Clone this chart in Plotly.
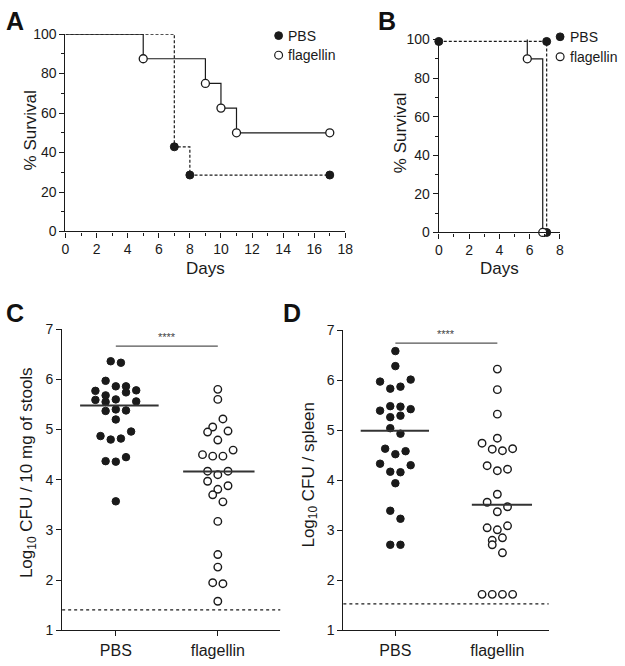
import plotly.graph_objects as go

W, H = 625, 666
FONT = "Arial, 'Liberation Sans', sans-serif"
INK = "#1a1a1a"


def px(x):
    return x / W


def py(y):
    return 1 - y / H


# ---------------- data ----------------
groups = ["PBS", "flagellin"]

# Panel A: survival (%)
A_flag_days = [0, 5, 9, 10, 11, 17]
A_flag_surv = [100, 87.5, 75, 62.5, 50, 50]
A_pbs_days = [0, 7, 8, 17]
A_pbs_surv = [100, 42.9, 28.6, 28.6]

# Panel B: survival (%)
B_pbs_days = [0, 7.13, 7.13]
B_pbs_surv = [99, 99, 0]
B_flag_days = [0, 5.85, 6.87]
B_flag_surv = [101.5, 90, 0]

# Panel C: Log10 CFU / 10 mg of stools
C_pbs = [6.36, 6.33, 5.97, 5.86, 5.86, 5.77, 5.78, 5.74, 5.68, 5.59, 5.60, 5.56, 5.55,
         5.37, 5.40, 5.38, 5.20, 4.87, 4.96, 4.80, 4.82, 4.37, 4.36, 4.45, 3.57]
C_pbs_offset = [-0.05, 0.05, -0.1, 0, 0.1, -0.2, 0.2, 0.1, -0.1, -0.2, 0, 0.2, -0.1,
                -0.1, 0, 0.1, 0, -0.15, 0.15, -0.05, 0.05, -0.1, 0, 0.1, 0]
C_flag = [5.80, 5.60, 5.21, 5.05, 4.95, 4.97, 4.79, 4.50, 4.47, 4.47, 4.59, 4.17, 4.10,
          4.17, 3.97, 3.88, 3.81, 3.70, 3.56, 3.17, 2.51, 2.26, 1.95, 1.93, 1.58]
C_flag_offset = [0, 0, 0.05, -0.05, -0.1, 0.1, 0, -0.15, -0.05, 0.05, 0.15, -0.1, 0,
                 0.1, -0.1, 0.1, 0, -0.05, 0.05, 0, 0, 0, -0.05, 0.05, 0]
C_center = [5.48, 4.165]
C_limit = 1.41
C_sig_y = 6.66

# Panel D: Log10 CFU / spleen
D_pbs = [6.58, 6.28, 5.97, 5.83, 5.87, 6.01, 5.39, 5.48, 5.47, 5.42, 5.26, 5.29, 5.04,
         4.93, 4.63, 4.52, 4.58, 4.33, 4.17, 4.16, 4.30, 3.94, 3.39, 3.23, 2.71, 2.71]
D_pbs_offset = [0, 0, -0.15, -0.05, 0.05, 0.15, -0.15, -0.05, 0.05, 0.15, -0.05, 0.05, -0.05,
                0.05, -0.1, 0, 0.1, -0.15, -0.05, 0.05, 0.15, 0, -0.05, 0.05, -0.05, 0.05]
D_flag = [6.22, 5.81, 5.32, 4.84, 4.74, 4.62, 4.59, 4.63, 4.29, 4.19, 4.22, 3.72, 3.56,
          3.47, 3.37, 3.05, 3.01, 3.09, 2.80, 2.85, 2.71, 2.55, 1.72, 1.72, 1.72, 1.72]
D_flag_offset = [0, 0, 0, 0, -0.15, -0.05, 0.05, 0.15, -0.1, 0, 0.1, 0, -0.1,
                 0.1, 0, -0.1, 0, 0.1, -0.05, 0.05, -0.05, 0.05, -0.15, -0.05, 0.05, 0.15]
D_center = [4.99, 3.51]
D_limit = 1.53
D_sig_y = 6.74

# ---------------- figure ----------------
fig = go.Figure()

filled = dict(color=INK, size=8, line=dict(color=INK, width=1))
opened = dict(color="white", size=8, line=dict(color=INK, width=1.3))


def survival(days, surv, xa, ya, dash, marker, skip_first):
    fig.add_trace(go.Scatter(x=days, y=surv, mode="lines", line_shape="hv",
                             line=dict(color=INK, width=1.2, dash=dash),
                             xaxis=xa, yaxis=ya, showlegend=False, hoverinfo="skip"))
    s = 1 if skip_first else 0
    fig.add_trace(go.Scatter(x=days[s:], y=surv[s:], mode="markers", marker=marker,
                             xaxis=xa, yaxis=ya, showlegend=False, cliponaxis=False))


survival(A_pbs_days, A_pbs_surv, "x", "y", "3px,2px", filled, True)
survival(A_flag_days, A_flag_surv, "x", "y", "solid", opened, True)
survival(B_pbs_days, B_pbs_surv, "x2", "y2", "3px,2px", filled, False)
survival(B_flag_days, B_flag_surv, "x2", "y2", "solid", opened, False)

dot_f = dict(color=INK, size=7.5, line=dict(color=INK, width=1))
dot_o = dict(color="white", size=7.5, line=dict(color=INK, width=1.4))


def scatter_panel(pbs, pbs_off, flag, flag_off, xa, ya):
    fig.add_trace(go.Scatter(x=[1 + o for o in pbs_off], y=pbs, mode="markers", marker=dot_f,
                             xaxis=xa, yaxis=ya, showlegend=False, cliponaxis=False))
    fig.add_trace(go.Scatter(x=[2 + o for o in flag_off], y=flag, mode="markers", marker=dot_o,
                             xaxis=xa, yaxis=ya, showlegend=False, cliponaxis=False))


scatter_panel(C_pbs, C_pbs_offset, C_flag, C_flag_offset, "x3", "y3")
scatter_panel(D_pbs, D_pbs_offset, D_flag, D_flag_offset, "x4", "y4")

shapes = []
annotations = []

# median lines
C_extent = [(-0.35, 0.42), (-0.34, 0.36)]
D_extent = [(-0.34, 0.33), (-0.25, 0.34)]
for centers, ext, xr, yr in [(C_center, C_extent, "x3", "y3"), (D_center, D_extent, "x4", "y4")]:
    for i, c in enumerate(centers):
        shapes.append(dict(type="line", xref=xr, yref=yr, x0=1 + i + ext[i][0], x1=1 + i + ext[i][1],
                           y0=c, y1=c, line=dict(color="#333333", width=2)))

# detection limits
shapes.append(dict(type="line", xref="x3 domain", yref="y3", x0=0, x1=1, y0=C_limit, y1=C_limit,
                   line=dict(color=INK, width=1.3, dash="dot")))
shapes.append(dict(type="line", xref="x4 domain", yref="y4", x0=0, x1=1, y0=D_limit, y1=D_limit,
                   line=dict(color=INK, width=1.3, dash="dot")))

# significance bars
for sy, xr, yr in [(C_sig_y, "x3", "y3"), (D_sig_y, "x4", "y4")]:
    shapes.append(dict(type="line", xref=xr, yref=yr, x0=1, x1=2, y0=sy, y1=sy,
                       line=dict(color="#555555", width=1.3)))
    annotations.append(dict(xref=xr, yref=yr, x=1.5, y=sy, text="****", showarrow=False,
                            yanchor="bottom", yshift=1, font=dict(size=11, color="#444444", family=FONT)))

# legends (A and B)
for (mx, my_pbs, my_flag) in [(280, 28.3, 48.3), (567, 29.5, 50)]:
    r = 4
    shapes.append(dict(type="circle", xref="paper", yref="paper",
                       x0=px(mx - r), x1=px(mx + r), y0=py(my_pbs + r), y1=py(my_pbs - r),
                       fillcolor=INK, line=dict(color=INK, width=1)))
    shapes.append(dict(type="circle", xref="paper", yref="paper",
                       x0=px(mx - r), x1=px(mx + r), y0=py(my_flag + r), y1=py(my_flag - r),
                       fillcolor="white", line=dict(color=INK, width=1.2)))
    annotations.append(dict(xref="paper", yref="paper", x=px(mx + 8), y=py(my_pbs), text=groups[0],
                            xanchor="left", yanchor="middle", showarrow=False,
                            font=dict(size=14, color=INK, family=FONT)))
    annotations.append(dict(xref="paper", yref="paper", x=px(mx + 8), y=py(my_flag), text=groups[1],
                            xanchor="left", yanchor="middle", showarrow=False,
                            font=dict(size=14, color=INK, family=FONT)))


# axis titles
def title(x, y, text, angle=0, size=16):
    annotations.append(dict(xref="paper", yref="paper", x=px(x), y=py(y), text=text,
                            textangle=angle, showarrow=False, xanchor="center", yanchor="middle",
                            font=dict(size=size, color=INK, family=FONT)))


title(205.5, 267, "Days", size=17)
title(28, 125, "% Survival", -90, 17)
title(505, 267, "Days", size=17)
title(405, 128, "% Survival", -90, 17)
title(24, 476, "Log<sub>10</sub> CFU / 10 mg of stools", -90, 17)
title(311, 478, "Log<sub>10</sub> CFU / spleen", -90, 17)

# panel letters
for lx, ly, t in [(11, 13, "A"), (391, 13, "B"), (11, 312, "C"), (294, 312, "D")]:
    annotations.append(dict(xref="paper", yref="paper", x=px(lx), y=py(ly), text=f"<b>{t}</b>",
                            showarrow=False, xanchor="center", yanchor="middle",
                            font=dict(size=25, color="#111111", family=FONT)))

axis_common = dict(showline=True, linecolor=INK, linewidth=1.2, showgrid=False, zeroline=False,
                   ticks="outside", ticklen=5, tickwidth=1.2, tickcolor=INK,
                   tickfont=dict(size=14, color=INK, family=FONT), fixedrange=True)
cat_font = dict(size=16, color=INK, family=FONT)

fig.update_layout(
    width=W, height=H, margin=dict(l=0, r=0, t=0, b=0),
    paper_bgcolor="white", plot_bgcolor="white",
    font=dict(family=FONT, color=INK),
    xaxis=dict(domain=[px(62.7), px(348)], range=[0, 18], dtick=2, anchor="y",
               minor=dict(ticks="outside", dtick=1, ticklen=3, tickcolor=INK), **axis_common),
    yaxis=dict(domain=[py(229), py(26.7)], range=[0, 100], dtick=20, anchor="x",
               minor=dict(ticks="outside", dtick=10, ticklen=3, tickcolor=INK), **axis_common),
    xaxis2=dict(domain=[px(443.3), px(566.7)], range=[0, 8], dtick=2, anchor="y2",
                minor=dict(ticks="outside", dtick=1, ticklen=3, tickcolor=INK), **axis_common),
    yaxis2=dict(domain=[py(230), py(32.3)], range=[0, 100], dtick=20, anchor="x2",
                minor=dict(ticks="outside", dtick=10, ticklen=3, tickcolor=INK), **axis_common),
    xaxis3=dict(domain=[px(59.3), px(281.7)], range=[0.474, 2.6125], anchor="y3",
                tickvals=[1, 2], ticktext=groups, **{**axis_common, "tickfont": cat_font}),
    yaxis3=dict(domain=[py(637.7), py(329)], range=[1, 7], dtick=1, anchor="x3", **axis_common),
    xaxis4=dict(domain=[px(346), px(555.3)], range=[0.49, 2.503], anchor="y4",
                tickvals=[1, 2], ticktext=groups, **{**axis_common, "tickfont": cat_font}),
    yaxis4=dict(domain=[py(637.7), py(330)], range=[1, 7], dtick=1, anchor="x4", **axis_common),
    shapes=shapes,
    annotations=annotations,
)

fig.write_html("out.html", config={"displayModeBar": False},
               post_script="document.body.style.margin='0';document.body.style.overflow='hidden';")
